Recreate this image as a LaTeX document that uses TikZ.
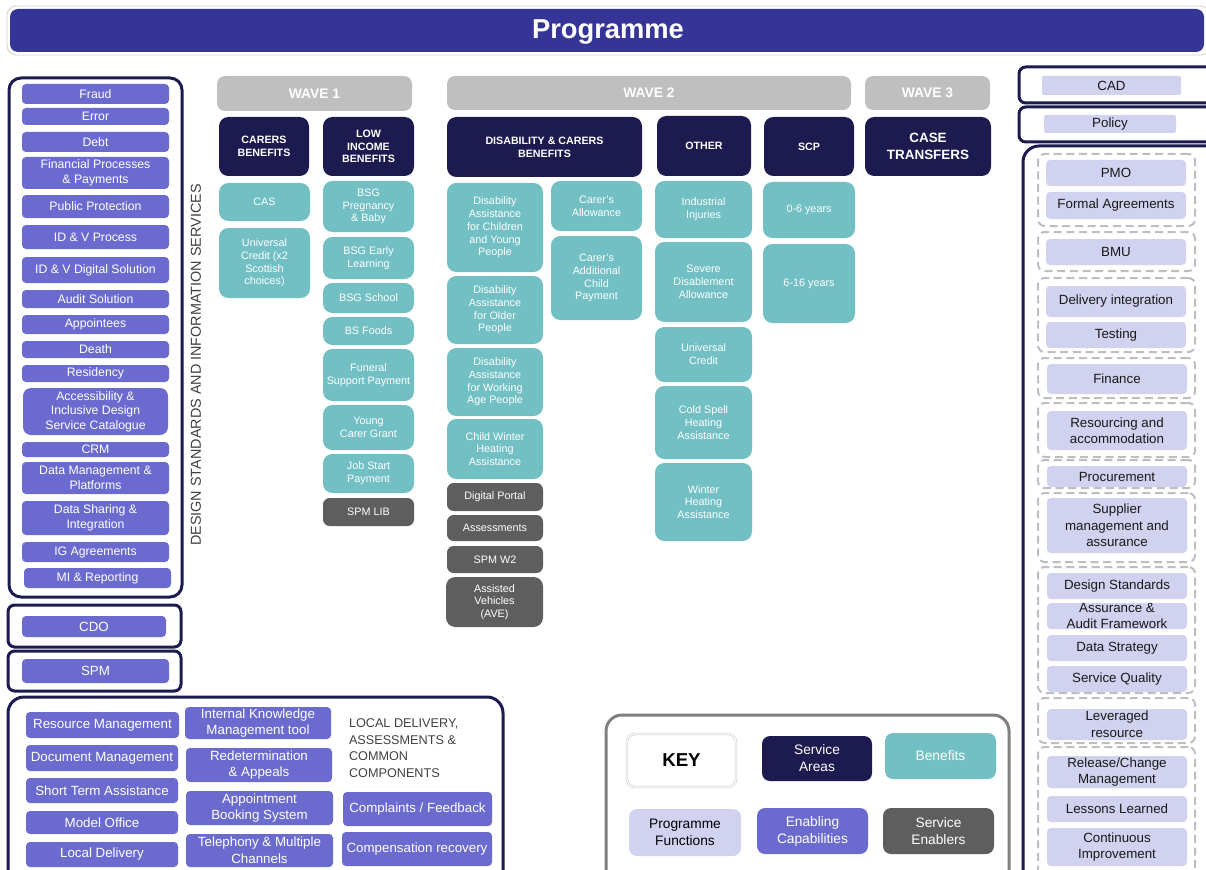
\documentclass[tikz,border=0pt]{standalone}
\usepackage{fontspec}
\setmainfont{Liberation Sans}
\definecolor{bannerc}{HTML}{353598}
\definecolor{navyc}{HTML}{1C1A4F}
\definecolor{purpc}{HTML}{6B6BCF}
\definecolor{tealc}{HTML}{72BFC4}
\definecolor{lavc}{HTML}{D1D1F0}
\definecolor{darkgc}{HTML}{5E5E5E}
\definecolor{waveg}{HTML}{BFBFBF}
\definecolor{textg}{HTML}{404040}
\definecolor{keyg}{HTML}{808080}
\definecolor{dashg}{HTML}{BEBEBE}
\newcommand\bx[7]{\node[#2, minimum width={(#5-#3)*0.75pt}, minimum height={(#6-#4)*0.75pt}] (#1) at ({(#3+#5)/2},{(#4+#6)/2}) {#7};}
\begin{document}
\begin{tikzpicture}[x=0.75pt,y=-0.75pt,
  base/.style={inner sep=0pt, outer sep=0pt, align=center},
  bannerst/.style={base, fill=bannerc, text=white, rounded corners=6pt, font=\bfseries\fontsize{20.5}{24}\selectfont},
  pur/.style={base, fill=purpc, text=white, rounded corners=3pt, font=\fontsize{9.2}{10.9}\selectfont},
  purb/.style={pur, rounded corners=3pt, font=\fontsize{10}{12.5}\selectfont},
  tealb/.style={base, fill=tealc, text=white, rounded corners=7pt, font=\fontsize{8.1}{9.6}\selectfont},
  hdr/.style={base, fill=navyc, text=white, rounded corners=7pt, font=\bfseries\fontsize{8}{9.5}\selectfont},
  wave/.style={base, fill=waveg, text=white, rounded corners=6pt, font=\bfseries\fontsize{10.4}{12}\selectfont},
  enab/.style={base, fill=darkgc, text=white, rounded corners=5pt, font=\fontsize{8.1}{9.6}\selectfont},
  lav/.style={base, fill=lavc, text=black!90, rounded corners=3pt, font=\fontsize{10}{12.4}\selectfont},
  frame/.style={base, draw=navyc, line width=2.25pt, rounded corners=9pt},
  sframe/.style={base, draw=navyc, line width=2.25pt, rounded corners=5pt},
  dgrp/.style={base, draw=dashg, line width=1.5pt, dash pattern=on 6pt off 3.5pt, rounded corners=5pt},
  keyb/.style={base, rounded corners=6pt, font=\fontsize{10.3}{12.8}\selectfont}
]
\useasboundingbox (0,0) rectangle (1206,870);
% banner
\draw[black!18, line width=0.6pt, rounded corners=7pt] (7,6) rectangle (1210,55);
\bx{banner}{bannerst}{10}{9}{1204}{52}{}
\node[base, text=white, font=\bfseries\fontsize{20.5}{24}\selectfont] (bannertxt) at (608,32) {Programme};

% left column
\bx{leftfr}{frame}{9}{78}{182}{597}{}
\bx{fraud}{pur}{22}{84}{169}{104}{Fraud}
\bx{error}{pur}{22}{108}{169}{125}{Error}
\bx{debt}{pur}{22}{132}{169}{152}{Debt}
\bx{fin}{pur}{22}{157}{169}{189}{Financial Processes\\\& Payments}
\bx{pubp}{pur}{22}{195}{169}{218}{Public Protection}
\bx{idvp}{pur}{22}{225}{169}{249}{ID \& V Process}
\bx{idvd}{pur}{22}{257}{169}{283}{ID \& V Digital Solution}
\bx{audit}{pur}{22}{290}{169}{308}{Audit Solution}
\bx{appt}{pur}{22}{315}{169}{334}{Appointees}
\bx{death}{pur}{22}{341}{169}{358}{Death}
\bx{resid}{pur}{22}{365}{169}{382}{Residency}
\bx{access}{pur, rounded corners=6pt}{23}{388}{168}{435}{Accessibility \&\\Inclusive Design\\Service Catalogue}
\bx{crm}{pur}{22}{442}{169}{457}{CRM}
\bx{datam}{pur}{22}{462}{169}{494}{Data Management \&\\Platforms}
\bx{datas}{pur}{22}{501}{169}{535}{Data Sharing \&\\Integration}
\bx{ig}{pur}{22}{542}{169}{562}{IG Agreements}
\bx{mi}{pur}{24}{568}{171}{588}{MI \& Reporting}
\bx{cdofr}{sframe}{8}{605}{181}{647}{}
\bx{cdo}{pur, font=\fontsize{10}{12}\selectfont}{22}{616}{166}{637}{CDO}
\bx{spmfr}{sframe}{8}{651}{181}{691}{}
\bx{spm}{pur, font=\fontsize{10}{12}\selectfont}{22}{659}{169}{683}{SPM}
\node[base, rotate=90, text=textg, font=\fontsize{10.8}{12}\selectfont] (dsis) at (196,365) {DESIGN STANDARDS AND INFORMATION SERVICES};

% wave 1
\bx{w1}{wave}{217}{76}{412}{111}{WAVE 1}
\bx{carers}{hdr}{219}{117}{309}{176}{CARERS\\BENEFITS}
\bx{low}{hdr}{323}{117}{414}{176}{LOW\\INCOME\\BENEFITS}
\bx{cas}{tealb}{219}{183}{310}{221}{CAS}
\bx{uc1}{tealb}{219}{228}{310}{298}{Universal\\Credit (x2\\Scottish\\choices)}
\bx{bsgp}{tealb}{323}{181}{414}{232}{BSG\\Pregnancy\\\& Baby}
\bx{bsge}{tealb}{323}{237}{414}{279}{BSG Early\\Learning}
\bx{bsgs}{tealb}{323}{283}{414}{313}{BSG School}
\bx{bsf}{tealb}{323}{317}{414}{345}{BS Foods}
\bx{fsp}{tealb}{323}{349}{414}{401}{Funeral\\Support Payment}
\bx{ycg}{tealb}{323}{405}{414}{450}{Young\\Carer Grant}
\bx{jsp}{tealb}{323}{454}{414}{493}{Job Start\\Payment}
\bx{spmlib}{enab}{323}{498}{414}{526}{SPM LIB}

% wave 2
\bx{w2}{wave}{447}{76}{851}{110}{WAVE 2}
\bx{dcb}{hdr}{447}{117}{642}{177}{DISABILITY \& CARERS\\BENEFITS}
\bx{other}{hdr}{657}{116}{751}{176}{OTHER}
\bx{scp}{hdr}{764}{117}{854}{176}{SCP}
\bx{dacyp}{tealb}{447}{183}{543}{272}{Disability\\Assistance\\for Children\\and Young\\People}
\bx{daop}{tealb}{447}{276}{543}{344}{Disability\\Assistance\\for Older\\People}
\bx{dawap}{tealb}{447}{348}{543}{416}{Disability\\Assistance\\for Working\\Age People}
\bx{cwha}{tealb}{447}{419}{543}{479}{Child Winter\\Heating\\Assistance}
\bx{dport}{enab}{447}{483}{543}{511}{Digital Portal}
\bx{assess}{enab}{447}{515}{543}{541}{Assessments}
\bx{spmw2}{enab}{447}{546}{543}{573}{SPM W2}
\bx{ave}{enab, rounded corners=7pt}{446}{577}{543}{627}{Assisted\\Vehicles\\(AVE)}
\bx{ca}{tealb}{551}{181}{642}{231}{Carer’s\\Allowance}
\bx{cacp}{tealb}{551}{236}{642}{320}{Carer’s\\Additional\\Child\\Payment}
\bx{ii}{tealb}{655}{181}{752}{238}{Industrial\\Injuries}
\bx{sda}{tealb}{655}{242}{752}{322}{Severe\\Disablement\\Allowance}
\bx{uc2}{tealb}{655}{327}{752}{382}{Universal\\Credit}
\bx{csha}{tealb}{655}{386}{752}{459}{Cold Spell\\Heating\\Assistance}
\bx{wha}{tealb}{655}{463}{752}{541}{Winter\\Heating\\Assistance}
\bx{y06}{tealb}{763}{182}{855}{238}{0-6 years}
\bx{y616}{tealb}{763}{244}{855}{323}{6-16 years}

% wave 3
\bx{w3}{wave}{865}{76}{990}{110}{WAVE 3}
\bx{ct}{hdr, font=\bfseries\fontsize{10.1}{12.7}\selectfont}{865}{117}{991}{176}{CASE\\TRANSFERS}

% right column
\draw[navyc, line width=2.25pt, rounded corners=5pt] (1019,67) rectangle (1240,103);
\bx{cad}{lav, rounded corners=1.5pt}{1042}{76}{1181}{95}{CAD}
\draw[navyc, line width=2.25pt, rounded corners=5pt] (1019,107) rectangle (1240,142);
\bx{policy}{lav, rounded corners=1.5pt}{1044}{115}{1176}{133}{Policy}
\draw[navyc, line width=2.25pt, rounded corners=12pt] (1023,146) rectangle (1240,900);
\bx{g1}{dgrp}{1038}{154}{1195}{226}{}
\bx{g2}{dgrp}{1038}{232}{1195}{271}{}
\bx{g3}{dgrp}{1038}{278}{1195}{352}{}
\bx{g4}{dgrp}{1038}{358}{1195}{398}{}
\bx{g5}{dgrp}{1038}{403}{1195}{457}{}
\bx{g6}{dgrp}{1038}{460}{1195}{488}{}
\bx{g7}{dgrp}{1038}{493}{1195}{562}{}
\bx{g8}{dgrp}{1038}{567}{1195}{693}{}
\bx{g9}{dgrp}{1038}{698}{1195}{743}{}
\bx{g10}{dgrp}{1038}{747}{1195}{880}{}
\bx{pmo}{lav}{1046}{160}{1186}{186}{PMO}
\bx{formal}{lav}{1046}{192}{1186}{219}{Formal Agreements}
\bx{bmu}{lav}{1046}{239}{1186}{265}{BMU}
\bx{delint}{lav}{1046}{286}{1186}{317}{Delivery integration}
\bx{testing}{lav}{1046}{322}{1186}{348}{Testing}
\bx{finance}{lav}{1047}{364}{1187}{394}{Finance}
\bx{resacc}{lav}{1047}{411}{1187}{450}{Resourcing and\\accommodation}
\bx{procure}{lav}{1047}{466}{1187}{487}{Procurement}
\bx{supp}{lav}{1047}{498}{1187}{553}{Supplier\\management  and\\assurance}
\bx{dstd}{lav}{1047}{573}{1187}{599}{Design Standards}
\bx{aaf}{lav, font=\fontsize{10}{11.5}\selectfont}{1047}{603}{1187}{629}{Assurance \&\\Audit Framework}
\bx{dstrat}{lav}{1047}{635}{1187}{661}{Data Strategy}
\bx{squal}{lav}{1047}{666}{1187}{692}{Service Quality}
\bx{lever}{lav, font=\fontsize{10}{12.5}\selectfont}{1047}{709}{1187}{740}{Leveraged\\resource}
\bx{relchg}{lav, font=\fontsize{10}{12.5}\selectfont}{1047}{756}{1187}{788}{Release/Change\\Management}
\bx{lessons}{lav}{1047}{796}{1187}{822}{Lessons  Learned}
\bx{contimp}{lav, font=\fontsize{10}{12.5}\selectfont}{1047}{828}{1187}{866}{Continuous\\Improvement}

% bottom-left
\draw[navyc, line width=2.25pt, rounded corners=12pt] (8,697) rectangle (503,900);
\bx{resm}{purb}{26}{712}{179}{738}{Resource  Management}
\bx{docm}{purb}{26}{745}{178}{771}{Document  Management}
\bx{sta}{purb}{26}{778}{178}{803}{Short  Term  Assistance}
\bx{mo}{purb}{26}{811}{178}{834}{Model  Office}
\bx{ld}{purb}{26}{842}{178}{867}{Local  Delivery}
\bx{ikm}{purb}{185}{707}{331}{739}{Internal  Knowledge\\Management  tool}
\bx{rda}{purb}{186}{748}{332}{782}{Redetermination\\\& Appeals}
\bx{abs}{purb}{186}{791}{333}{825}{Appointment\\Booking  System}
\bx{tmc}{purb}{186}{834}{333}{867}{Telephony  \&  Multiple\\Channels}
\node[base, anchor=west, align=left, text=textg, font=\fontsize{9.5}{12.5}\selectfont] (ldacc) at (349,748) {LOCAL  DELIVERY,\\ASSESSMENTS  \&\\COMMON\\COMPONENTS};
\bx{cf}{purb}{343}{792}{492}{826}{Complaints  /  Feedback}
\bx{cr}{purb}{342}{832}{492}{866}{Compensation  recovery}

% key
\draw[keyg, line width=2.25pt, rounded corners=12pt] (606,715) rectangle (1009,900);
\bx{key}{keyb, fill=white, draw=black!22, double=white, double distance=1pt, line width=0.4pt, font=\bfseries\fontsize{14}{16}\selectfont}{627}{734}{736}{787}{KEY}
\bx{ksa}{keyb, fill=navyc, text=white}{762}{736}{872}{781}{Service\\Areas}
\bx{kben}{keyb, fill=tealc, text=white}{885}{733}{996}{779}{Benefits}
\bx{kpf}{keyb, fill=lavc, text=black}{629}{809}{741}{856}{Programme\\Functions}
\bx{kec}{keyb, fill=purpc, text=white}{757}{808}{868}{854}{Enabling\\Capabilities}
\bx{kse}{keyb, fill=darkgc, text=white}{883}{808}{994}{854}{Service\\Enablers}
\end{tikzpicture}
\end{document}
